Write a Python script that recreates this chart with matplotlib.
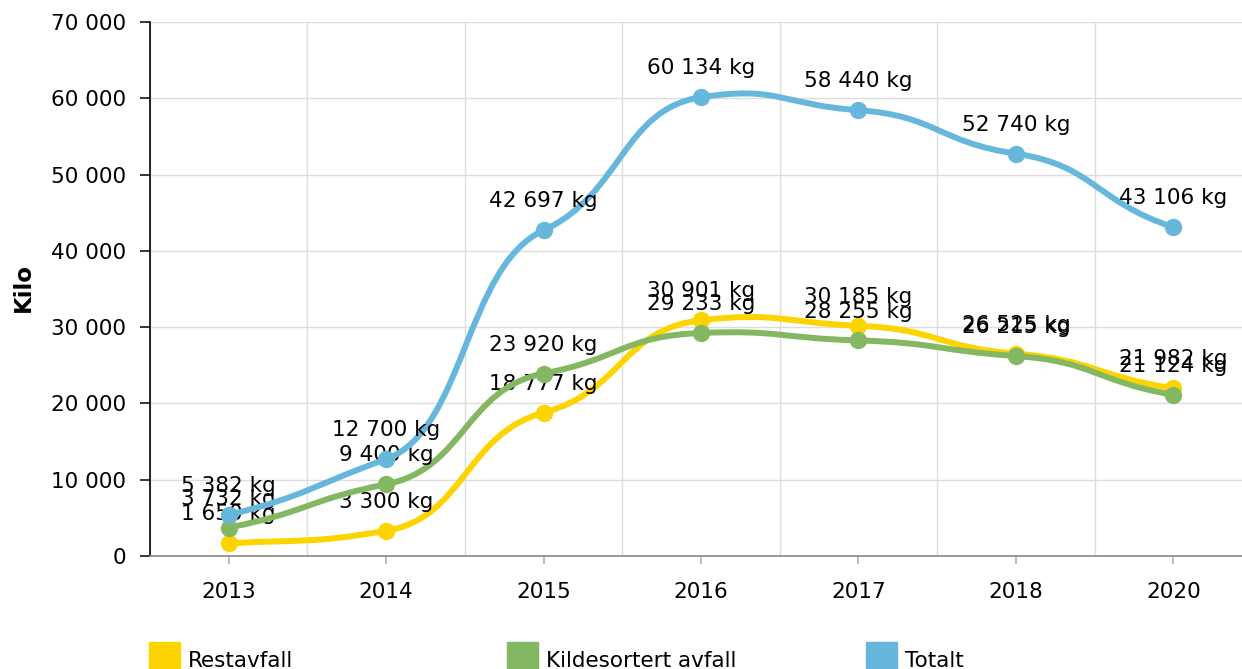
import matplotlib
matplotlib.use("Agg")
import matplotlib.pyplot as plt
import numpy as np
from matplotlib.path import Path
from matplotlib.patches import PathPatch, Rectangle
from matplotlib.ticker import FuncFormatter

years = ["2013", "2014", "2015", "2016", "2017", "2018", "2020"]
restavfall = [1650, 3300, 18777, 30901, 30185, 26525, 21982]
kildesortert = [3732, 9400, 23920, 29233, 28255, 26215, 21124]
totalt = [5382, 12700, 42697, 60134, 58440, 52740, 43106]

series_names = ["Restavfall", "Kildesortert avfall", "Totalt"]
series_values = [restavfall, kildesortert, totalt]
colors = ["#fdd400", "#84b761", "#67b7dc"]

plt.rcParams["font.family"] = "DejaVu Sans"
FS = 15.5


def fmt(v):
    return f"{v:,.0f}".replace(",", " ")


def smooth_path(xs, ys, arm=0.5, k=0.4, k_end=0.7):
    # cubic bezier through every point, tangent scaled from catmull-rom
    n = len(xs)
    slopes = []
    for i in range(n):
        i0 = max(i - 1, 0)
        i1 = min(i + 1, n - 1)
        f = k_end if i in (0, n - 1) else k
        slopes.append(f * (ys[i1] - ys[i0]) / (xs[i1] - xs[i0]))
    verts = [(xs[0], ys[0])]
    codes = [Path.MOVETO]
    for i in range(n - 1):
        dx = (xs[i + 1] - xs[i]) * arm
        verts += [
            (xs[i] + dx, ys[i] + slopes[i] * dx),
            (xs[i + 1] - dx, ys[i + 1] - slopes[i + 1] * dx),
            (xs[i + 1], ys[i + 1]),
        ]
        codes += [Path.CURVE4] * 3
    return Path(verts, codes)


fig = plt.figure(figsize=(12.42, 6.69), dpi=100)
ax = fig.add_axes([150 / 1242, 113 / 669, 1102 / 1242, 534 / 669])

x = np.arange(len(years))
for j, (name, vals, c) in enumerate(zip(series_names, series_values, colors)):
    z = 3 + j
    ax.add_patch(PathPatch(smooth_path(x, vals), fill=False, edgecolor=c,
                           lw=4.3, capstyle="round", zorder=z))
    ax.plot(x, vals, "o", color=c, ms=12.5, mew=0, zorder=z + 0.1)
    for xi, v in zip(x, vals):
        ax.annotate(f"{fmt(v)} kg", (xi, v), xytext=(0, 16.5),
                    textcoords="offset points", ha="center", va="baseline",
                    fontsize=FS, color="#000000", zorder=z + 0.2)

ax.set_xlim(-0.5, len(years) - 0.5)
ax.set_ylim(0, 70000)
ax.set_xticks(x)
ax.set_xticklabels(years)
ax.set_xticks(np.arange(-0.5, len(years), 1), minor=True)
ax.set_yticks(np.arange(0, 70001, 10000))
ax.yaxis.set_major_formatter(FuncFormatter(lambda v, p: fmt(v)))

ax.grid(axis="y", which="major", color="#dddddd", lw=1.0, zorder=0)
ax.grid(axis="x", which="minor", color="#dddddd", lw=1.0, zorder=0)
ax.set_axisbelow(True)

for s in ["top", "right"]:
    ax.spines[s].set_visible(False)
ax.spines["left"].set_color("#000000")
ax.spines["left"].set_linewidth(1.2)
ax.spines["bottom"].set_color("#888888")
ax.spines["bottom"].set_linewidth(1.2)

ax.tick_params(axis="y", length=7, width=1.1, color="#000000", pad=10,
               labelsize=FS, labelcolor="#000000")
ax.tick_params(axis="x", which="major", length=6, width=1.1, color="#aaaaaa",
               pad=13, labelsize=FS, labelcolor="#000000")
ax.tick_params(axis="x", which="minor", length=0)

fig.text(23 / 1242, 1 - 287 / 669, "Kilo", rotation=90, ha="center",
         va="center", fontsize=16.5, fontweight="bold")

# legend along the bottom edge
leg_x = [149, 507, 866]
for lx, name, c in zip(leg_x, series_names, colors):
    fig.patches.append(Rectangle((lx / 1242, 0), 31 / 1242, 27 / 669,
                                 transform=fig.transFigure, color=c))
    fig.text((lx + 39) / 1242, 2 / 669, name, ha="left", va="baseline",
             fontsize=FS)

fig.savefig("out.png", dpi=100)
